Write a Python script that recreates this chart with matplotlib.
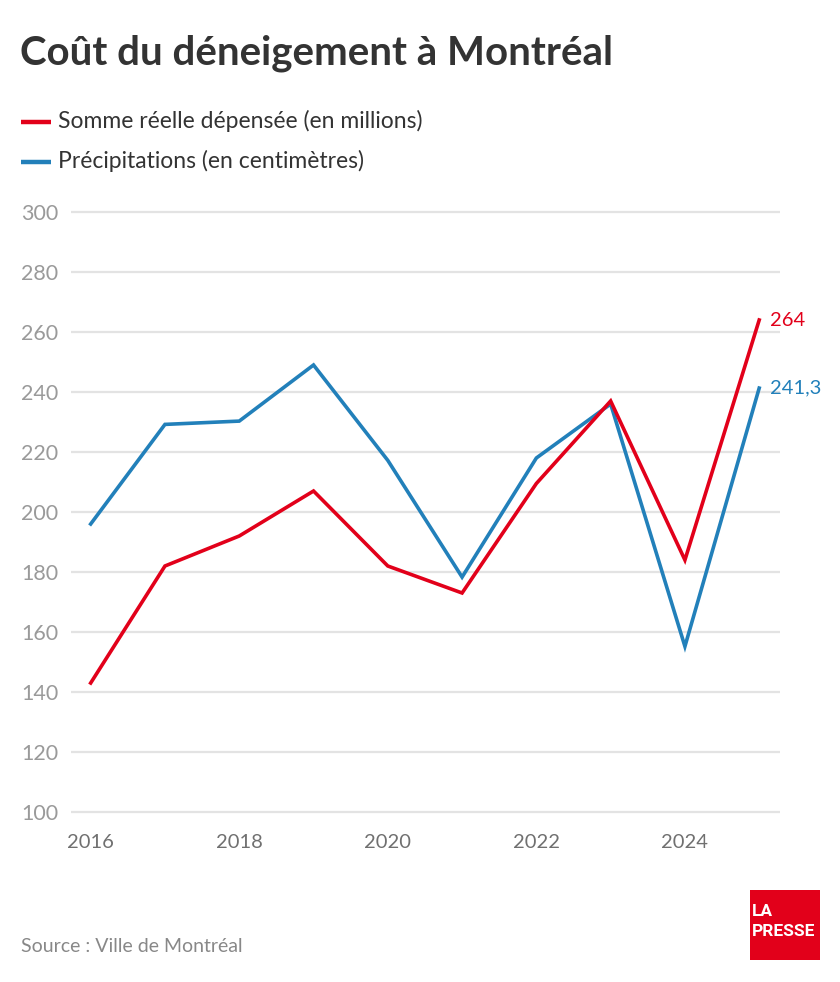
import matplotlib
matplotlib.use("Agg")
import matplotlib.pyplot as plt
from matplotlib.patches import Rectangle

years = [2016, 2017, 2018, 2019, 2020, 2021, 2022, 2023, 2024, 2025]
depenses = [143, 182, 192, 207, 182, 173, 209.5, 237, 184, 264]
precipitations = [196, 229.2, 230.3, 249, 217.2, 178.3, 218, 236, 155.2, 241.3]
yticks = [100, 120, 140, 160, 180, 200, 220, 240, 260, 280, 300]
xticks = [2016, 2018, 2020, 2022, 2024]

title = "Coût du déneigement à Montréal"
label_dep = "Somme réelle dépensée (en millions)"
label_pre = "Précipitations (en centimètres)"
source = "Source : Ville de Montréal"
last_dep = "264"
last_pre = "241,3"

RED = "#E2001A"
BLUE = "#2280BA"
GRID = "#E3E3E3"

W, H = 840, 982
fig = plt.figure(figsize=(W / 100, H / 100), dpi=100)
fig.patch.set_facecolor("white")

def fx(px):
    return px / W

def fy(py):
    return 1 - py / H

# axes: x from 71 to 780 px, y from 824 to 200 px
ax = fig.add_axes([fx(71), fy(824), fx(780) - fx(71), fy(200) - fy(824)])
ax.set_xlim(2015.735, 2025.28)
ax.set_ylim(96, 304)

for v in yticks:
    ax.axhline(v, color=GRID, lw=1.6, zorder=0)

ax.plot(years, depenses, color=RED, lw=2.6, solid_joinstyle="miter", zorder=3)
ax.plot(years, precipitations, color=BLUE, lw=2.6, solid_joinstyle="miter", zorder=2)

ax.set_yticks(yticks)
ax.set_yticklabels([str(v) for v in yticks], fontfamily="Lato", fontsize=15.5, color="#9A9A9A")
ax.set_xticks(xticks)
ax.set_xticklabels([str(v) for v in xticks], fontfamily="Lato", fontsize=14.5, color="#707070")
ax.tick_params(axis="y", length=0, pad=9)
ax.tick_params(axis="x", length=0, pad=7)
for s in ax.spines.values():
    s.set_visible(False)
ax.set_facecolor("none")

ax.annotate(last_dep, xy=(years[-1], depenses[-1]), xytext=(8, 0), textcoords="offset points",
            color=RED, fontfamily="Lato", fontsize=14.5, va="center", ha="left", annotation_clip=False)
ax.annotate(last_pre, xy=(years[-1], precipitations[-1]), xytext=(8, 0), textcoords="offset points",
            color=BLUE, fontfamily="Lato", fontsize=14.5, va="center", ha="left", annotation_clip=False)

# title
fig.text(fx(20), fy(53), title, fontfamily="Lato", fontweight="bold", fontsize=29,
         color="#333333", ha="left", va="center")

# legend
for ypx, col, lab in [(122, RED, label_dep), (162, BLUE, label_pre)]:
    fig.add_artist(plt.Line2D([fx(21), fx(51)], [fy(ypx), fy(ypx)], color=col, lw=3.2,
                              solid_capstyle="butt", transform=fig.transFigure))
    fig.text(fx(58), fy(ypx - 1), lab, fontfamily="Lato", fontweight="normal", fontsize=16.5,
             color="#333333", ha="left", va="center")

# source
fig.text(fx(21), fy(946), source, fontfamily="Lato", fontweight="normal", fontsize=14,
         color="#888888", ha="left", va="center")

# logo
fig.add_artist(Rectangle((fx(750), fy(960)), fx(820) - fx(750), fy(890) - fy(960),
                         transform=fig.transFigure, facecolor=RED, edgecolor="none"))
fig.text(fx(752), fy(911), "LA", fontfamily="Roboto", fontweight="bold", fontsize=12.5,
         color="white", ha="left", va="center")
fig.text(fx(752), fy(931), "PRESSE", fontfamily="Roboto", fontweight="bold", fontsize=12.5,
         color="white", ha="left", va="center")

fig.savefig("out.png", dpi=100, facecolor="white")
